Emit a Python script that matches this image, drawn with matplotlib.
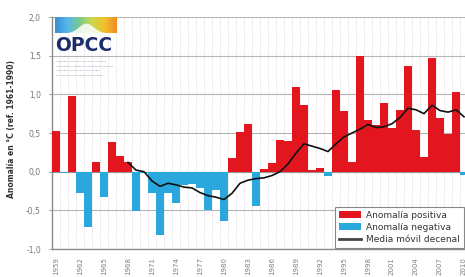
import numpy as np
import matplotlib
matplotlib.use("Agg")
import matplotlib.pyplot as plt
from matplotlib.patches import Patch
from matplotlib.lines import Line2D

years = list(range(1959, 2011))
anomalies = [0.52, -0.02, 0.98, -0.27, -0.72, 0.13, -0.33, 0.38, 0.20, 0.13,
             -0.51, -0.02, -0.27, -0.82, -0.27, -0.41, -0.17, -0.16, -0.21, -0.49,
             -0.24, -0.64, 0.18, 0.51, 0.61, -0.45, 0.03, 0.11, 0.41, 0.40,
             1.09, 0.86, 0.02, 0.05, -0.06, 1.06, 0.79, 0.12, 1.50, 0.67,
             0.60, 0.89, 0.57, 0.80, 1.36, 0.54, 0.19, 1.47, 0.70, 0.49,
             1.03, -0.04]
ma_years = list(range(1968, 2011))
moving_avg = [0.12, 0.02, 0.00, -0.12, -0.19, -0.15, -0.17, -0.20, -0.21, -0.27,
              -0.31, -0.33, -0.36, -0.28, -0.15, -0.11, -0.09, -0.08, -0.05, 0.00,
              0.10, 0.24, 0.36, 0.33, 0.30, 0.26, 0.36, 0.45, 0.50, 0.55,
              0.61, 0.57, 0.58, 0.62, 0.70, 0.82, 0.80, 0.75, 0.86, 0.79,
              0.77, 0.80, 0.71]
tick_years = list(range(1959, 2011, 3))
ytick_vals = [-1.0, -0.5, 0.0, 0.5, 1.0, 1.5, 2.0]
ytick_labels = ["-1,0", "-0,5", "0,0", "0,5", "1,0", "1,5", "2,0"]
legend_labels = ["Anomalía positiva", "Anomalía negativa", "Media móvil decenal"]
ylabel_text = "Anomalía en °C (ref. 1961-1990)"

RED = "#e3151f"
BLUE = "#2aa7dc"
GRAY = "#8a8a8a"

fig = plt.figure(figsize=(4.65, 2.77), dpi=100)
ax = fig.add_axes([52/465, 1-249/277, 416/465, 232/277])

yrs = np.array(years)
an = np.array(anomalies)
colors = [RED if v >= 0 else BLUE for v in an]
ax.bar(yrs, an, width=1.0, color=colors, linewidth=0, zorder=3)
ax.plot(ma_years, moving_avg, color="#111111", lw=1.2, zorder=4)

ax.set_xlim(1958.5, 2010.5)
ax.set_ylim(-1.0, 2.0)
ax.set_yticks(ytick_vals)
ax.set_yticklabels(ytick_labels)
ax.set_xticks(tick_years)
ax.set_xticklabels([str(y) for y in tick_years], rotation=90)
ax.set_xticks(np.arange(1958.5, 2011, 1), minor=True)
ax.tick_params(axis="x", which="both", length=0, labelsize=5, colors="#808080", pad=6)
ax.tick_params(axis="y", length=2, width=0.6, color=GRAY, labelsize=5.5, labelcolor="#777777", pad=6)

ax.grid(axis="y", color="#b5b5b5", lw=0.8, zorder=1)
ax.grid(axis="x", which="minor", color="#c8c8c8", lw=0.5, ls=(0, (1, 1.5)), zorder=1)
ax.axhline(0, color="#999999", lw=0.8, zorder=2)
for s in ["top", "right"]:
    ax.spines[s].set_visible(False)
for s in ["left", "bottom"]:
    ax.spines[s].set_color(GRAY)
    ax.spines[s].set_linewidth(1.0)

fig.text(12/465, 1-129/277, ylabel_text, rotation=90, fontsize=5.5, fontweight="bold",
         color="#333333", ha="center", va="center")

# logo
lax = fig.add_axes([55/465, 1-78/277, 62/465, 61/277])
lax.set_xlim(0, 1)
lax.set_ylim(0, 1)
lax.axis("off")
grad = np.linspace(0, 1, 200)[None, :]
cmap = matplotlib.colors.LinearSegmentedColormap.from_list(
    "g", ["#3a8fd6", "#55b8e8", "#7cc98a", "#c9d84a", "#f2c12e", "#f08a24"])
lax.imshow(grad, aspect="auto", cmap=cmap, extent=[0, 1, 0.74, 1.0], zorder=1)
mx = np.linspace(0, 1, 50)
my = 0.74 + 0.16 * np.exp(-((mx - 0.5) / 0.17) ** 2)
lax.fill_between(mx, 0.74, my, color="white", alpha=0.85, zorder=2, lw=0)
lax.text(0.0, 0.53, "OPCC", fontsize=13.5, fontweight="bold", color="#1d2d6b",
         ha="left", va="center", zorder=3)
small = ["Observatorio Pirenaico del Cambio Climático",
         "Observatoire Pyrénéen du Changement Climatique",
         "Observatori Pirinenc del Canvi Climàtic",
         "Pirinioetako Klima Aldaketaren Behatokia"]
for i, t in enumerate(small):
    lax.text(0.02, 0.27 - i * 0.075, t, fontsize=1.6, color="#8890a8",
             ha="left", va="center")

handles = [Patch(facecolor=RED, edgecolor="none"),
           Patch(facecolor=BLUE, edgecolor="none"),
           Line2D([0], [0], color="#444444", lw=2)]
leg = ax.legend(handles, legend_labels, loc="lower left",
                bbox_to_anchor=((335-52)/416, 1/232),
                fontsize=6.5, frameon=True, fancybox=False, framealpha=1,
                edgecolor="#888888", borderpad=0.45, handlelength=2.4,
                handleheight=0.7, labelspacing=0.35, borderaxespad=0.0,
                handletextpad=0.6)
leg.get_frame().set_linewidth(0.8)
for t in leg.get_texts():
    t.set_color("#333333")
leg.set_zorder(5)

fig.savefig("out.png", dpi=100)
